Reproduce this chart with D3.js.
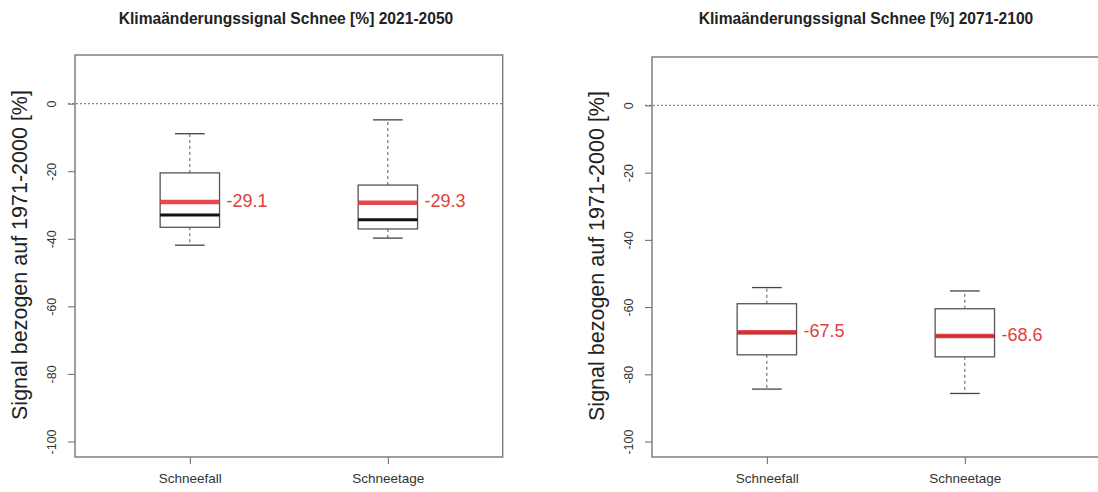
<!DOCTYPE html>
<html>
<head>
<meta charset="utf-8">
<script src="https://cdn.jsdelivr.net/npm/d3@7"></script>
<style>
  html, body { margin: 0; padding: 0; background: #fff; }
  svg { display: block; }
  text { font-family: "Liberation Sans", Arial, Helvetica, sans-serif; }
</style>
</head>
<body>
<svg id="chart" width="1098" height="492"></svg>
<script>
// Snow climate-change signal, relative to 1971-2000, per indicator
const categories = ["Schneefall", "Schneetage"];
const periods = ["2021-2050", "2071-2100"];
const yTicks = [0, -20, -40, -60, -80, -100];

// Box statistics per period (order follows `categories`)
const whiskerHigh = [[-8.9, -4.8], [-54.2, -55.2]];
const upperQuartile = [[-20.5, -24.1], [-59.0, -60.5]];
const median = [[-33.0, -34.4], [-67.6, -68.7]];
const lowerQuartile = [[-36.6, -37.1], [-74.2, -74.8]];
const whiskerLow = [[-41.9, -39.8], [-84.4, -85.7]];
const mean = [[-29.1, -29.3], [-67.5, -68.6]];

const svg = d3.select("#chart");
// plain hyphen for negative numbers
const fmtInt = d => String(Math.round(d));
const fmtOne = d => d.toFixed(1);

// panel geometry: plot frame in pixels
const panels = [
  { x0: 75, y0: 55, y1: 457, titleX: 286, right: null },
  { x0: 652, y0: 57, y1: 457, titleX: 866, right: 1120 }
];
const unitPx = 198;       // pixels per category step
const boxHalf = 0.15;     // half box width in category units
const capHalf = 0.075;    // half whisker-cap width

panels.forEach((p, pi) => {
  const g = svg.append("g");
  const x = d3.scaleLinear().domain([0.42, 2.58]).range([p.x0, p.x0 + 2.16 * unitPx]);
  const y = d3.scaleLinear().domain([-104.6, 14.4]).range([p.y1, p.y0]);
  const xr = x.range();
  const xRight = p.right === null ? xr[1] : p.right;

  // title
  g.append("text")
    .attr("x", p.titleX).attr("y", 24)
    .attr("text-anchor", "middle")
    .attr("font-weight", "bold").attr("font-size", 15.6)
    .attr("fill", "#222")
    .text(`Klimaänderungssignal Schnee [%] ${periods[pi]}`);

  // zero reference line
  g.append("line")
    .attr("x1", xr[0] - 7).attr("x2", xRight)
    .attr("y1", y(0)).attr("y2", y(0))
    .attr("stroke", "#888").attr("stroke-width", 1.2)
    .attr("stroke-dasharray", "2,2");

  // y axis ticks and labels
  const yAxis = d3.axisLeft(y).tickValues(yTicks).tickSize(7).tickFormat(fmtInt);
  const ya = g.append("g").attr("transform", `translate(${xr[0]},0)`).call(yAxis);
  ya.select(".domain").remove();
  ya.selectAll(".tick line").attr("stroke", "#666");
  ya.selectAll(".tick text")
    .attr("font-size", 12.5).attr("fill", "#333")
    .attr("x", null).attr("dy", null)
    .attr("text-anchor", "middle")
    .attr("transform", `translate(-22,0) rotate(-90)`)
    .attr("dominant-baseline", "middle");

  // x axis ticks and labels
  const xAxis = d3.axisBottom(x).tickValues([1, 2]).tickSize(7)
    .tickFormat(d => categories[d - 1]);
  const xa = g.append("g").attr("transform", `translate(0,${p.y1})`).call(xAxis);
  xa.select(".domain").remove();
  xa.selectAll(".tick line").attr("stroke", "#666");
  xa.selectAll(".tick text").attr("font-size", 13.5).attr("fill", "#333").attr("y", 16);

  // y axis title
  g.append("text")
    .attr("transform", `translate(${xr[0] - 54},${(p.y0 + p.y1) / 2 - 1}) rotate(-90)`)
    .attr("text-anchor", "middle").attr("dominant-baseline", "middle")
    .attr("font-size", 21.5).attr("fill", "#222")
    .text("Signal bezogen auf 1971-2000 [%]");

  // plot frame (the right panel runs past the page edge)
  g.append("rect")
    .attr("x", xr[0]).attr("y", p.y0)
    .attr("width", xRight - xr[0]).attr("height", p.y1 - p.y0)
    .attr("fill", "none").attr("stroke", "#777").attr("stroke-width", 1.4);

  categories.forEach((c, i) => {
    const cx = i + 1;
    const bx = g.append("g");
    // whiskers
    bx.append("line")
      .attr("x1", x(cx)).attr("x2", x(cx))
      .attr("y1", y(upperQuartile[pi][i])).attr("y2", y(whiskerHigh[pi][i]))
      .attr("stroke", "#555").attr("stroke-dasharray", "3,3");
    bx.append("line")
      .attr("x1", x(cx)).attr("x2", x(cx))
      .attr("y1", y(lowerQuartile[pi][i])).attr("y2", y(whiskerLow[pi][i]))
      .attr("stroke", "#555").attr("stroke-dasharray", "3,3");
    [whiskerHigh[pi][i], whiskerLow[pi][i]].forEach(v => {
      bx.append("line")
        .attr("x1", x(cx - capHalf)).attr("x2", x(cx + capHalf))
        .attr("y1", y(v)).attr("y2", y(v))
        .attr("stroke", "#444").attr("stroke-width", 1.3);
    });
    // box
    bx.append("rect")
      .attr("x", x(cx - boxHalf)).attr("width", x(cx + boxHalf) - x(cx - boxHalf))
      .attr("y", y(upperQuartile[pi][i]))
      .attr("height", y(lowerQuartile[pi][i]) - y(upperQuartile[pi][i]))
      .attr("fill", "#fff").attr("stroke", "#555").attr("stroke-width", 1.3);
    // median
    bx.append("line")
      .attr("x1", x(cx - boxHalf)).attr("x2", x(cx + boxHalf))
      .attr("y1", y(median[pi][i])).attr("y2", y(median[pi][i]))
      .attr("stroke", "#111").attr("stroke-width", 3);
    // mean
    bx.append("line")
      .attr("x1", x(cx - boxHalf)).attr("x2", x(cx + boxHalf))
      .attr("y1", y(mean[pi][i])).attr("y2", y(mean[pi][i]))
      .attr("stroke", "#e3363a").attr("stroke-opacity", 0.9).attr("stroke-width", 4.5);
    bx.append("text")
      .attr("x", x(cx + boxHalf) + 7).attr("y", y(mean[pi][i]))
      .attr("dominant-baseline", "middle")
      .attr("font-size", 18).attr("fill", "#e0403f")
      .text(fmtOne(mean[pi][i]));
  });
});
</script>
</body>
</html>
